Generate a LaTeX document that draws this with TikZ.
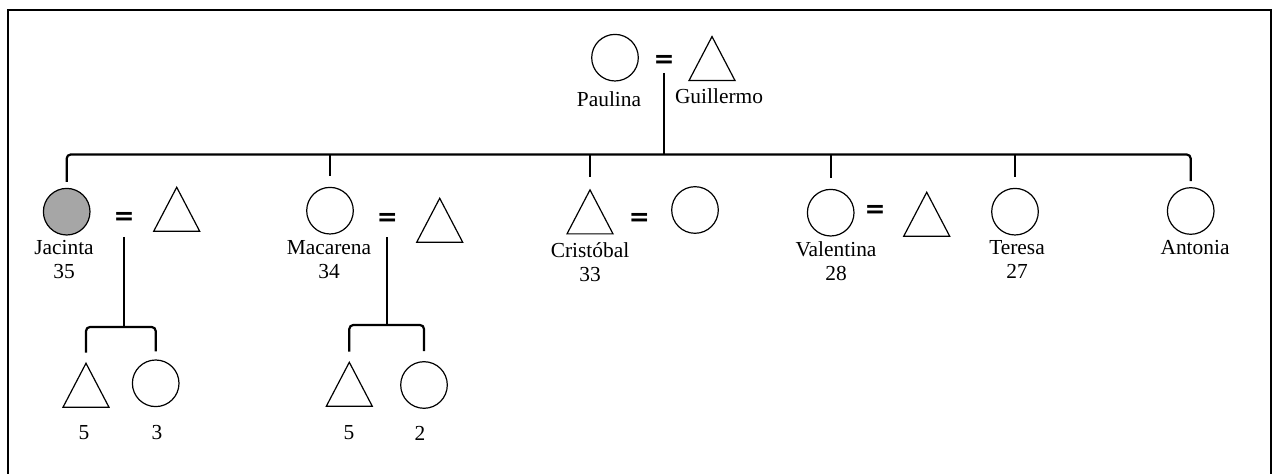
\documentclass[tikz,border=0pt]{standalone}
\usepackage{fontspec}
\setmainfont{Liberation Serif}
\newfontfamily\eqfont{DejaVu Sans}
\usetikzlibrary{shapes.geometric}

\tikzset{
  female/.style={circle, draw, line width=0.6pt, inner sep=0pt, minimum size=23.3pt},
  male/.style={isosceles triangle, isosceles triangle stretches, shape border rotate=90,
    draw, line width=0.6pt, inner sep=0pt, minimum width=23pt, minimum height=22pt, anchor=apex},
  marriage/.style={font=\eqfont\bfseries\fontsize{12.5}{12}\selectfont, inner sep=0pt},
  who/.style={font=\fontsize{10.7}{12}\selectfont, align=center, inner sep=0pt},
  kin/.style={line width=1.1pt},
}

\begin{document}
\begin{tikzpicture}[x=0.5pt, y=-0.5pt]
\useasboundingbox (0,0) rectangle (1277,474);
\draw [line width=1pt] (8,480) -- (8,10) -- (1271,10) -- (1271,480);
% grandparents
\node [female] (paulina) at (615,57.7) {};
\node [marriage] (eq0) at (664,61) {=};
\node [male] (guillermo) at (712,35) {};
\node [who] (lpaulina) at (609,99) {Paulina};
\node [who] (lguillermo) at (719,96) {Guillermo};
% children
\node [female, fill={rgb,255:red,166;green,166;blue,166}] (jacinta) at (66.7,211.7) {};
\node [marriage] (eqj) at (124,218) {=};
\node [male] (jhusband) at (176.7,185.7) {};
\node [who] (ljacinta) at (64,260) {Jacinta\\35};
\node [female] (macarena) at (330,210.7) {};
\node [marriage] (eqm) at (387.3,219.3) {=};
\node [male] (mhusband) at (439.7,196.7) {};
\node [who] (lmacarena) at (329,260) {Macarena\\34};
\node [male] (cristobal) at (590,188.3) {};
\node [marriage] (eqc) at (639.3,219.3) {=};
\node [female] (cwife) at (695,210) {};
\node [who] (lcristobal) at (590,262.5) {Cristóbal\\33};
\node [female] (valentina) at (830.7,212.7) {};
\node [marriage] (eqv) at (875,211.7) {=};
\node [male] (vhusband) at (926.7,190.7) {};
\node [who] (lvalentina) at (836,261) {Valentina\\28};
\node [female] (teresa) at (1015,211.7) {};
\node [who] (lteresa) at (1017,259) {Teresa\\27};
\node [female] (antonia) at (1190.7,211) {};
\node [who] (lantonia) at (1195,248) {Antonia};
% grandchildren
\node [male] (json) at (86,361.7) {};
\node [female] (jdaughter) at (155.7,383.3) {};
\node [who] (ljson) at (84,433) {5};
\node [who] (ljdaughter) at (157,433) {3};
\node [male] (mson) at (349.3,360.7) {};
\node [female] (mdaughter) at (424,385) {};
\node [who] (lmson) at (349,433) {5};
\node [who] (lmdaughter) at (420,433) {2};
% lines of descent
\coordinate (sibs) at (664,154.5);
\coordinate (jkids) at (124,327);
\coordinate (mkids) at (387.3,325);
\draw [kin] ([yshift=-6pt]eq0.center) -- (sibs);
\draw [kin, rounded corners=2pt] ([yshift=3pt]jacinta.north) |- (sibs) -| ([yshift=3pt]antonia.north);
\foreach \p in {macarena, valentina, teresa}
  \draw [kin] (\p.north |- sibs) -- ([yshift=5.5pt]\p.north);
\draw [kin] (cristobal.apex |- sibs) -- ([yshift=5.5pt]cristobal.apex);
\draw [kin] ([yshift=-9.5pt]eqj.center) -- (jkids);
\draw [kin, rounded corners=2pt] ([yshift=4.5pt]json.apex) |- (jkids) -| ([yshift=4pt]jdaughter.north);
\draw [kin] ([yshift=-9pt]eqm.center) -- (mkids);
\draw [kin, rounded corners=2pt] ([yshift=4.5pt]mson.apex) |- (mkids) -| ([yshift=5pt]mdaughter.north);
\end{tikzpicture}
\end{document}
